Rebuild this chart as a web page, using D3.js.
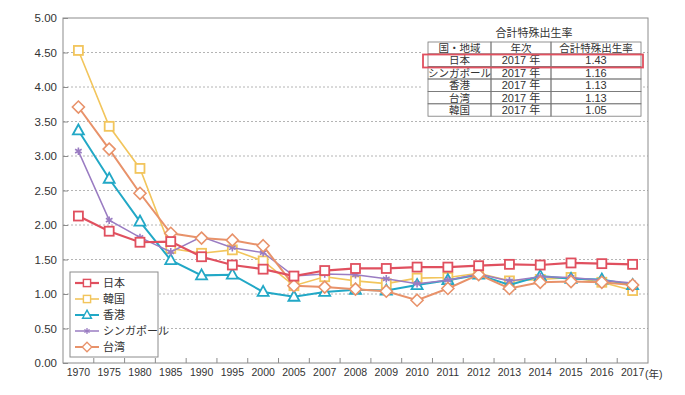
<!DOCTYPE html>
<html>
<head>
<meta charset="utf-8">
<script src="https://cdn.jsdelivr.net/npm/d3@7"></script>
<style>
  body { margin: 0; background: #fff; }
  text { font-family: "Liberation Sans", "Noto Sans CJK JP", sans-serif; fill: #333; }
</style>
</head>
<body>
<div class="chart"></div>
<script>
const years = ['1970','1975','1980','1985','1990','1995','2000','2005','2007','2008','2009','2010','2011','2012','2013','2014','2015','2016','2017'];

const japan     = [2.13,1.91,1.75,1.76,1.54,1.42,1.36,1.26,1.34,1.37,1.37,1.39,1.39,1.41,1.43,1.42,1.45,1.44,1.43];
const korea     = [4.53,3.43,2.82,1.66,1.59,1.64,1.48,1.12,1.25,1.19,1.15,1.23,1.24,1.30,1.19,1.21,1.24,1.17,1.05];
const hongkong  = [3.37,2.67,2.05,1.49,1.27,1.28,1.03,0.96,1.03,1.06,1.05,1.13,1.20,1.28,1.13,1.26,1.22,1.21,1.13];
const singapore = [3.07,2.07,1.82,1.61,1.83,1.67,1.60,1.26,1.29,1.28,1.22,1.15,1.20,1.29,1.19,1.25,1.24,1.20,1.16];
const taiwan    = [3.71,3.10,2.46,1.88,1.81,1.78,1.70,1.12,1.10,1.07,1.04,0.91,1.08,1.28,1.08,1.17,1.18,1.17,1.13];

const seriesNames = ['日本','韓国','香港','シンガポール','台湾'];
const yTicks = [0,0.5,1,1.5,2,2.5,3,3.5,4,4.5,5];

const tableTitle = '合計特殊出生率';
const tableHeader = ['国・地域','年次','合計特殊出生率'];
const tableRegions = ['日本','シンガポール','香港','台湾','韓国'];
const tableYears = ['2017 年','2017 年','2017 年','2017 年','2017 年'];
const tableRates = ['1.43','1.16','1.13','1.13','1.05'];

const W = 685, H = 395;
const plot = { left: 63, right: 648, top: 18, bottom: 363 };

const svg = d3.select('.chart').append('svg')
  .attr('width', W).attr('height', H);

const x = d3.scaleBand().domain(years).range([plot.left, plot.right]);
const cx = d => x(d) + x.bandwidth() / 2;
const y = d3.scaleLinear().domain([0, 5]).range([plot.bottom, plot.top]);

// dotted grid
svg.append('g').selectAll('line')
  .data(yTicks.filter(t => t > 0 && t < 5))
  .join('line')
  .attr('x1', plot.left).attr('x2', plot.right)
  .attr('y1', d => y(d)).attr('y2', d => y(d))
  .attr('stroke', '#b4b4b4').attr('stroke-width', 1)
  .attr('stroke-dasharray', '2,2');

// frame
svg.append('rect')
  .attr('x', plot.left).attr('y', plot.top)
  .attr('width', plot.right - plot.left).attr('height', plot.bottom - plot.top)
  .attr('fill', 'none').attr('stroke', '#8c8c8c').attr('stroke-width', 1);

// y axis
const yAxis = svg.append('g')
  .attr('transform', `translate(${plot.left},0)`)
  .call(d3.axisLeft(y).tickValues(yTicks).tickFormat(d3.format('.2f'))
    .tickSizeInner(-5).tickSizeOuter(0).tickPadding(6));
yAxis.select('.domain').remove();
yAxis.selectAll('line').attr('stroke', '#8c8c8c');
yAxis.selectAll('text').style('font-size', '11.5px').attr('fill', '#333');

// x axis: labels centred, ticks on band edges
const xAxis = svg.append('g')
  .attr('transform', `translate(0,${plot.bottom})`)
  .call(d3.axisBottom(x).tickSize(0).tickPadding(6));
xAxis.select('.domain').remove();
xAxis.selectAll('text').style('font-size', '10.5px').attr('fill', '#333');
svg.append('text')
  .attr('x', cx('2017') + 12.5).attr('y', plot.bottom + 15)
  .style('font-size', '10.5px').text('(年)');
svg.append('g').selectAll('line')
  .data(years.slice(1))
  .join('line')
  .attr('x1', d => x(d)).attr('x2', d => x(d))
  .attr('y1', plot.bottom).attr('y2', plot.bottom - 5)
  .attr('stroke', '#8c8c8c');

// series
const series = [
  { name: seriesNames[1], values: korea,     color: '#f2c55c', marker: 'square',   width: 1.6 },
  { name: seriesNames[2], values: hongkong,  color: '#22a8c6', marker: 'triangle', width: 2 },
  { name: seriesNames[3], values: singapore, color: '#9a7cc2', marker: 'star',     width: 1.5 },
  { name: seriesNames[4], values: taiwan,    color: '#e8926a', marker: 'diamond',  width: 2 },
  { name: seriesNames[0], values: japan,     color: '#e0505f', marker: 'square',   width: 2.2 }
];

const line = d3.line().x(d => cx(d.year)).y(d => y(d.v));

function drawMarker(g, type, color) {
  if (type === 'square') {
    g.append('rect').attr('x', -4.5).attr('y', -4.5).attr('width', 9).attr('height', 9)
      .attr('fill', '#fff').attr('stroke', color).attr('stroke-width', 1.8);
  } else if (type === 'triangle') {
    g.append('path').attr('d', 'M0,-6L5.5,4L-5.5,4Z')
      .attr('fill', '#fff').attr('stroke', color).attr('stroke-width', 1.8);
  } else if (type === 'diamond') {
    g.append('path').attr('d', 'M0,-6L6,0L0,6L-6,0Z')
      .attr('fill', '#fff').attr('stroke', color).attr('stroke-width', 1.6);
  } else {
    g.append('path').attr('d', d3.symbol(d3.symbolAsterisk, 40)())
      .attr('fill', 'none').attr('stroke', color).attr('stroke-width', 1.6);
  }
}

series.forEach(s => {
  const pts = years.map((yr, i) => ({ year: yr, v: s.values[i] }));
  const g = svg.append('g');
  g.append('path').datum(pts)
    .attr('d', line).attr('fill', 'none')
    .attr('stroke', s.color).attr('stroke-width', s.width);
  g.selectAll('.m').data(pts).join('g')
    .attr('class', 'm')
    .attr('transform', d => `translate(${cx(d.year)},${y(d.v)})`)
    .each(function () { drawMarker(d3.select(this), s.marker, s.color); });
});

// legend
const legendOrder = [series[4], series[0], series[1], series[2], series[3]];
const lg = svg.append('g').attr('transform', 'translate(70,272)');
lg.append('rect').attr('width', 88).attr('height', 85)
  .attr('fill', '#fff').attr('stroke', '#8c8c8c');
legendOrder.forEach((s, i) => {
  const row = lg.append('g').attr('transform', `translate(0,${11 + i * 16})`);
  row.append('line').attr('x1', 5).attr('x2', 29)
    .attr('stroke', s.color).attr('stroke-width', s.width);
  drawMarker(row.append('g').attr('transform', 'translate(17,0) scale(0.8)'), s.marker, s.color);
  row.append('text').attr('x', 33).attr('y', 4)
    .style('font-size', '11px').text(s.name);
});

// table
const tb = svg.append('g');
tb.append('rect').attr('x', 422).attr('y', plot.top + 1)
  .attr('width', 220).attr('height', 98).attr('fill', '#fff');
tb.append('text').attr('x', 534).attr('y', 37).attr('text-anchor', 'middle')
  .style('font-size', '11px').text(tableTitle);
const colX = [428, 491, 551, 641];
const rowY = [42, 54, 66.5, 79, 91.4, 103.8, 116.2];
const cells = [tableHeader].concat(tableRegions.map((r, i) => [r, tableYears[i], tableRates[i]]));
cells.forEach((row, ri) => {
  row.forEach((c, ci) => {
    tb.append('rect')
      .attr('x', colX[ci]).attr('y', rowY[ri])
      .attr('width', colX[ci + 1] - colX[ci]).attr('height', rowY[ri + 1] - rowY[ri])
      .attr('fill', 'none').attr('stroke', '#777').attr('stroke-width', 0.8);
    tb.append('text')
      .attr('x', (colX[ci] + colX[ci + 1]) / 2)
      .attr('y', (rowY[ri] + rowY[ri + 1]) / 2 + 4)
      .attr('text-anchor', 'middle')
      .style('font-size', ri === 0 || ci === 0 ? '10.5px' : '11px')
      .text(c);
  });
});
tb.append('rect').attr('x', 423).attr('y', 54.5)
  .attr('width', 220).attr('height', 13)
  .attr('fill', 'none').attr('stroke', '#e0505f').attr('stroke-width', 1.8);
</script>
</body>
</html>
